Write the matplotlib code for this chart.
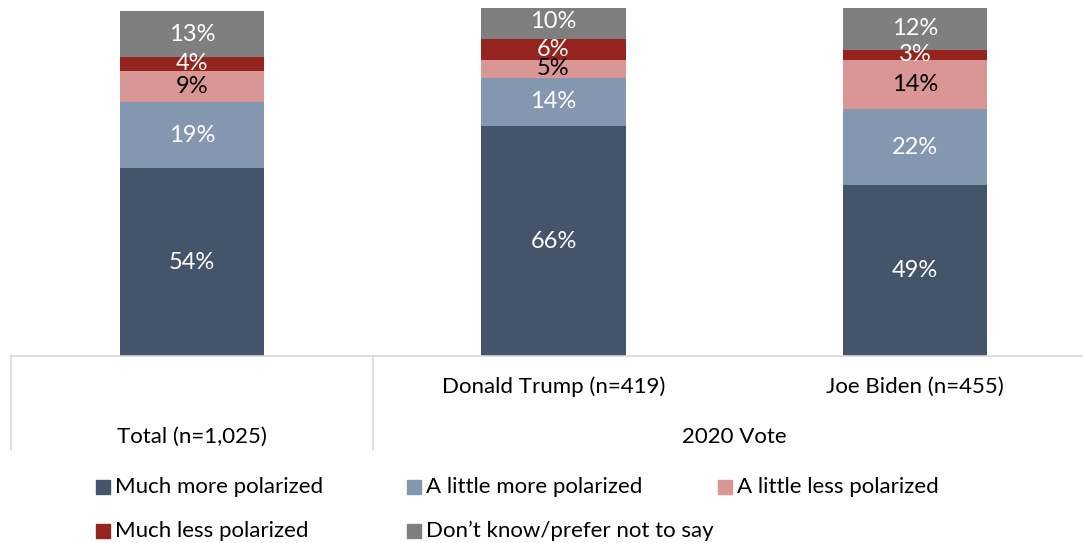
import numpy as np
import matplotlib
matplotlib.use("Agg")
import matplotlib.pyplot as plt
from matplotlib.patches import Rectangle

plt.rcParams['font.family'] = ['Lato', 'DejaVu Sans']

groups = ['Total (n=1,025)', 'Donald Trump (n=419)', 'Joe Biden (n=455)']
series = ['Much more polarized', 'A little more polarized', 'A little less polarized',
          'Much less polarized', 'Don\u2019t know/prefer not to say']
much_more = [54, 66, 49]
little_more = [19, 14, 22]
little_less = [9, 5, 14]
much_less = [4, 6, 3]
dont_know = [13, 10, 12]
values = [much_more, little_more, little_less, much_less, dont_know]

colors = ['#44546A', '#8497B0', '#DA9694', '#96241E', '#7F7F7F']
label_colors = ['white', 'white', 'black', 'white', 'white']

W, H = 1083, 543
fig = plt.figure(figsize=(W / 100, H / 100), dpi=100)
ax = fig.add_axes([11.25 / W, (H - 356) / H, 1084.5 / W, 348 / H])

x = np.arange(len(groups))
bottom = np.zeros(len(groups))
for vals, c, lc in zip(values, colors, label_colors):
    vals = np.array(vals, dtype=float)
    ax.bar(x, vals, width=0.4, bottom=bottom, color=c, edgecolor='none')
    for xi, b, v in zip(x, bottom, vals):
        ax.text(xi, b + v / 2, f'{int(v)}%', ha='center', va='center',
                color=lc, fontsize=17)
    bottom += vals

ax.set_xlim(-0.5, 2.5)
ax.set_ylim(0, 100)
ax.set_xticks([])
ax.set_yticks([])
for s in ax.spines.values():
    s.set_visible(False)

# table-style category axis
tr = ax.get_xaxis_transform()
line_kw = dict(color='#D9D9D9', lw=1.2, transform=tr, clip_on=False)
ax.plot([-0.5, 2.5], [0, 0], **line_kw)
ax.plot([-0.5, -0.5], [0, -0.27], **line_kw)
ax.plot([0.5, 0.5], [0, -0.27], **line_kw)

ax.text(1, -0.089, groups[1], transform=tr, ha='center', va='center', fontsize=16)
ax.text(2, -0.089, groups[2], transform=tr, ha='center', va='center', fontsize=16)
ax.text(0, -0.233, groups[0], transform=tr, ha='center', va='center', fontsize=16)
ax.text(1.5, -0.233, '2020 Vote', transform=tr, ha='center', va='center', fontsize=16)

# legend, laid out in fixed columns
legend_pos = [(96, 487), (407, 487), (718, 487), (96, 531), (407, 531)]
for name, c, (px, py) in zip(series, colors, legend_pos):
    fig.patches.append(Rectangle((px / W, (H - py - 7) / H), 14 / W, 14 / H,
                                 transform=fig.transFigure, color=c))
    fig.text((px + 19) / W, (H - py) / H, name, ha='left', va='center', fontsize=16)

fig.savefig('out.png', dpi=100)
